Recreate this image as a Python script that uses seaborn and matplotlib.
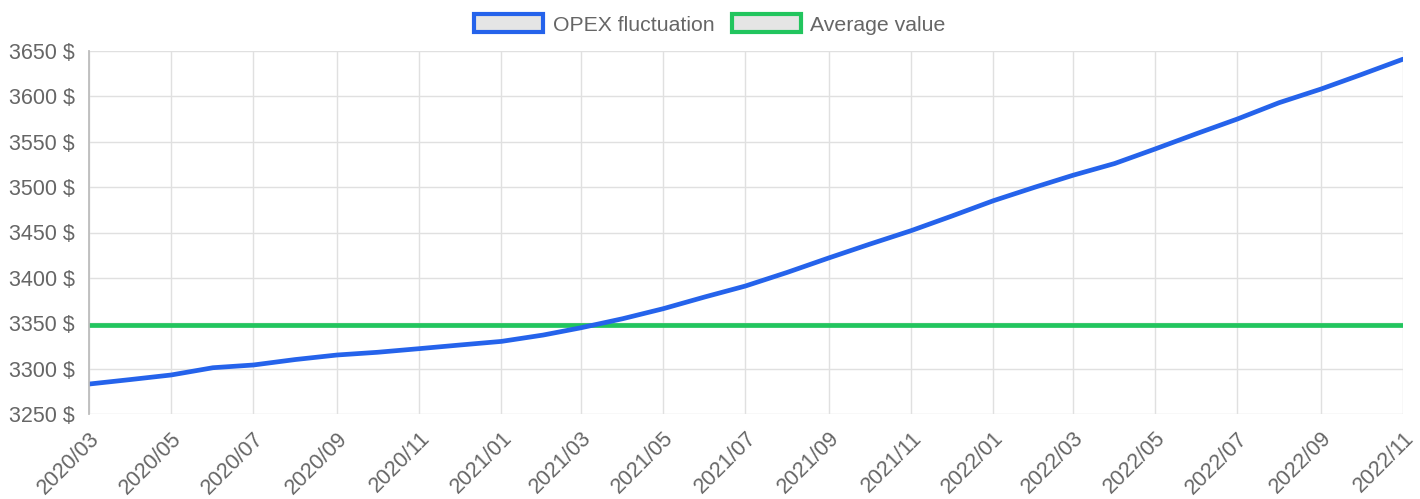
import pandas as pd
import seaborn as sns
import matplotlib.pyplot as plt
import matplotlib.dates as mdates
from matplotlib.patches import Patch
from matplotlib.ticker import FuncFormatter, MultipleLocator

# monthly OPEX values
months = pd.date_range("2020-03-01", "2022-11-01", freq="MS")
opex = [3283, 3288, 3293, 3301, 3304, 3310, 3315, 3318, 3322, 3326,
        3330, 3337, 3345, 3355, 3366, 3379, 3391, 3406, 3422, 3437,
        3452, 3468, 3485, 3500, 3513, 3526, 3542, 3559, 3575, 3593,
        3608, 3624, 3641]
average_value = 3348

df = pd.DataFrame({"month": months, "opex": opex})

sns.set_theme(style="white")
plt.rcParams["font.family"] = ["Liberation Sans", "DejaVu Sans"]

blue = "#2563eb"
green = "#22c55e"
grid_c = "#e0e0e0"
text_c = "#666666"

fig = plt.figure(figsize=(14.2, 4.99), dpi=100)
ax = fig.add_axes([89 / 1420, 1 - 414 / 499, (1403 - 89) / 1420, (414 - 51) / 499])

sns.lineplot(data=df, x="month", y="opex", color=blue, linewidth=3.4, ax=ax)
ax.axhline(average_value, color=green, linewidth=3.4, zorder=1)

ax.set_xlim(months[0], months[-1])
ax.set_ylim(3250, 3650)
ax.yaxis.set_major_locator(MultipleLocator(50))
ax.yaxis.set_major_formatter(FuncFormatter(lambda v, p: f"{v:.0f} $"))
ax.xaxis.set_major_locator(mdates.MonthLocator(bymonth=[1, 3, 5, 7, 9, 11]))
ax.xaxis.set_major_formatter(mdates.DateFormatter("%Y/%m"))

ax.grid(True, color=grid_c, linewidth=1)
ax.set_xlabel("")
ax.set_ylabel("")
for s in ["top", "right", "bottom"]:
    ax.spines[s].set_visible(False)
ax.spines["left"].set_color("#bdbdbd")
ax.spines["left"].set_linewidth(1.3)

ax.tick_params(axis="both", length=8, color=grid_c, labelcolor=text_c,
               labelsize=15.5, pad=2)
plt.setp(ax.get_xticklabels(), rotation=45, ha="right", rotation_mode="anchor")

handles = [
    Patch(facecolor="#e5e5e5", edgecolor=blue, linewidth=3, label="OPEX fluctuation"),
    Patch(facecolor="#e5e5e5", edgecolor=green, linewidth=3, label="Average value"),
]
fig.legend(handles=handles, loc="upper center", bbox_to_anchor=(0.5, 1.01),
           ncol=2, frameon=False, fontsize=15.3, labelcolor=text_c,
           handlelength=3.25, handleheight=0.95, columnspacing=0.8,
           handletextpad=0.45)

fig.savefig("out.png", dpi=100)
